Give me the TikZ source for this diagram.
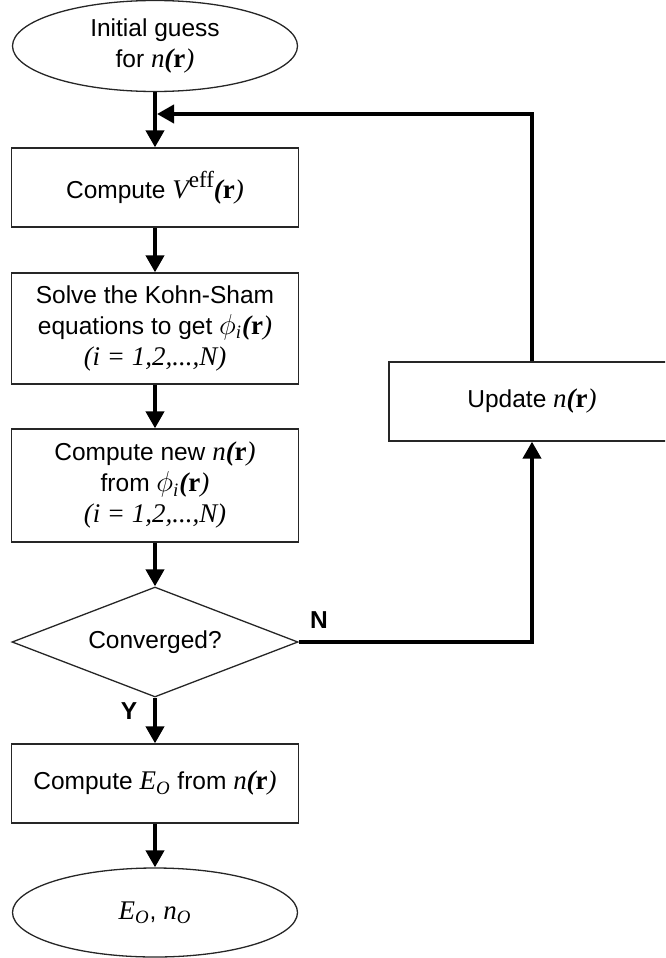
\documentclass[tikz,border=0pt]{standalone}
\usepackage{fontspec}
\setmainfont{Liberation Sans}
\newfontfamily\serifmath[Scale=1.1]{Liberation Serif}
\usetikzlibrary{arrows.meta,shapes.geometric}

% italic serif symbol, bold position vector r, and n(r)
\newcommand\mi[1]{{\serifmath\itshape #1}}
\newcommand\rvec{{\serifmath\bfseries\itshape(}{\serifmath\bfseries r}{\serifmath\itshape)}}
\newcommand\nofr{\mi{n}\rvec}
\newcommand\phii{{\fontsize{14.5pt}{15.5pt}\selectfont$\boldsymbol{\phi}$}\textsubscript{\mi{i}}}
\newcommand\irange{\mi{(i = 1,2,...,N)}}
\providecommand\boldsymbol[1]{\mathbf{#1}}

\begin{document}
\begin{tikzpicture}[x=0.5pt,y=-0.5pt,
  every node/.style={font=\fontsize{12.25pt}{15.5pt}\selectfont},
  box/.style={draw=black!85, line width=0.65pt, rectangle, minimum width=143.5pt,
    inner sep=0pt, align=center},
  term/.style={draw=black!85, line width=0.65pt, ellipse, minimum width=142.5pt,
    minimum height=45.5pt, inner sep=0pt, align=center},
  decide/.style={draw=black!85, line width=0.65pt, diamond, aspect=2.6,
    minimum width=143pt, minimum height=55pt, inner sep=0pt},
  lbl/.style={font=\fontsize{12.25pt}{15.5pt}\selectfont\bfseries, inner sep=0pt},
  flow/.style={line width=2pt, -{Triangle[length=8.5pt,width=9pt]}}
]
\clip (0,0) rectangle (665,958);

% main column
\node[term] (start) at (155,46) {Initial guess\\for \nofr};
\node[box, minimum height=39.5pt] (veff) at (155,187.5) {Compute \mi{V}{\fontsize{10.5pt}{12pt}\selectfont\raisebox{5.5pt}{\serifmath eff}}\rvec};
\node[box, minimum height=55.5pt] (ks) at (155,328.5) {Solve the Kohn-Sham\\equations to get \phii\rvec\\\irange};
\node[box, minimum height=56.5pt] (dens) at (155,485.5) {Compute new \nofr\\from \phii\rvec\\\irange};
\node[decide] (conv) at (155,642) {Converged?};
\node[box, minimum height=39.5pt] (energy) at (155,783.5) {Compute \mi{E}\textsubscript{\mi{O}} from \nofr};
\node[term, minimum height=44.5pt] (final) at (155,912.5) {\mi{E}\textsubscript{\mi{O}}, \mi{n}\textsubscript{\mi{O}}};

% feedback branch
\node[box, minimum width=143pt, minimum height=39.5pt] (upd) at (532,401.5) {Update \nofr};
\coordinate (join) at (157,114);

% connectors
\draw[flow] (start.south) -- (veff.north);
\draw[flow] (veff) -- (ks);
\draw[flow] (ks) -- (dens);
\draw[flow] (dens) -- (conv.north);
\draw[flow] (conv.south) -- (energy.north);
\draw[flow] (energy) -- (final.north);
\draw[flow] (conv.east) -| (upd.south);
\draw[flow] (upd.north) |- (join);

% branch labels
\node[lbl] (nolab) at (319,620) {N};
\node[lbl] (yeslab) at (129,711) {Y};
\end{tikzpicture}
\end{document}
